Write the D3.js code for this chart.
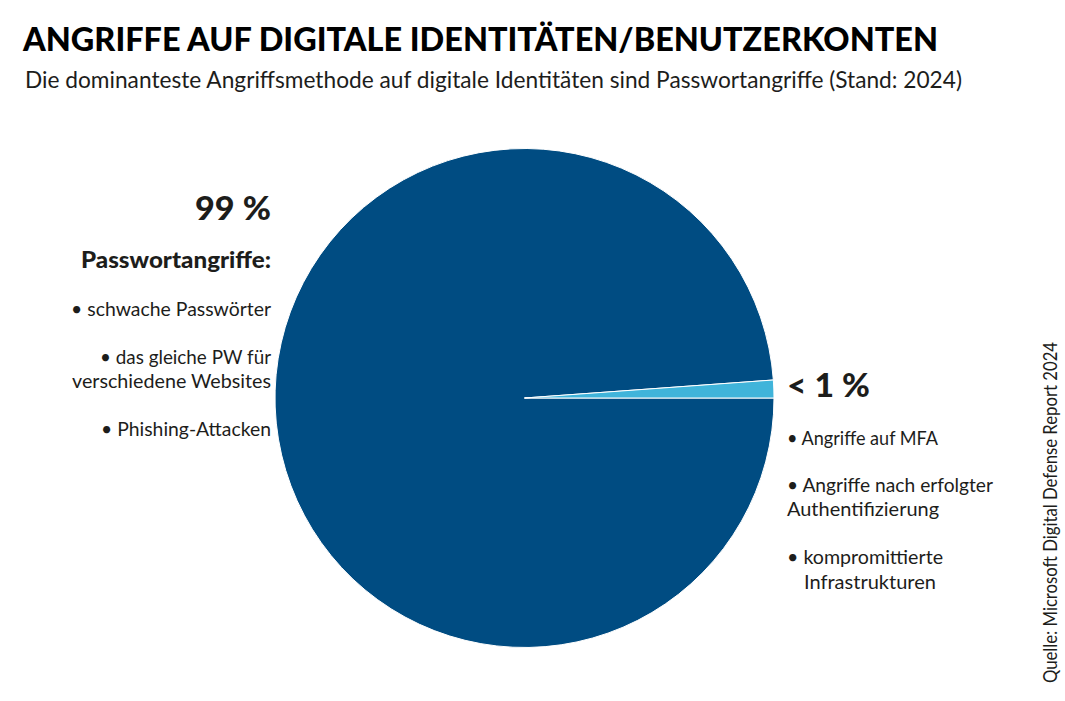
<!DOCTYPE html>
<html>
<head>
<meta charset="utf-8">
<script src="https://cdn.jsdelivr.net/npm/d3@7"></script>
<style>
  html, body { margin: 0; padding: 0; background: #fff; }
  text { font-family: Lato, "Noto Sans", sans-serif; fill: #1d1d1b; }
</style>
</head>
<body>
<svg id="chart" width="1065" height="701"></svg>
<script>
const categories = ['Passwortangriffe', 'Andere Angriffe'];
const shares = [98.85, 1.15];
const colors = ['#004c82', '#40b4da'];

const title = 'ANGRIFFE AUF DIGITALE IDENTITÄTEN/BENUTZERKONTEN';
const subtitle = 'Die dominanteste Angriffsmethode auf digitale Identitäten sind Passwortangriffe (Stand: 2024)';
const source = 'Quelle: Microsoft Digital Defense Report 2024';

const leftLines = ['99 %', 'Passwortangriffe:', '• schwache Passwörter', '• das gleiche PW für', 'verschiedene Websites', '• Phishing-Attacken'];
const rightLines = ['< 1 %', '• Angriffe auf MFA', '• Angriffe nach erfolgter', 'Authentifizierung', '• kompromittierte', 'Infrastrukturen'];

// layout of the text blocks
const leftStyle = [
    {y: 220, size: 33, weight: 900, width: 76},
    {y: 268, size: 22, weight: 900, width: 190},
    {y: 316, size: 20, weight: 400, width: 200},
    {y: 364, size: 20, weight: 400, width: 171},
    {y: 388, size: 20, weight: 400, width: 199},
    {y: 436, size: 20, weight: 400, width: 170}
];
const rightStyle = [
    {x: 787, y: 397, size: 33, weight: 900, width: 83},
    {x: 787, y: 445, size: 20, weight: 400, width: 151},
    {x: 787, y: 492, size: 20, weight: 400, width: 206},
    {x: 787, y: 516, size: 20, weight: 400, width: 152},
    {x: 787, y: 564, size: 20, weight: 400, width: 156},
    {x: 804, y: 589, size: 20, weight: 400, width: 132}
];

const svg = d3.select('#chart');

svg.append('text').attr('x', 23).attr('y', 51)
    .attr('font-size', 33).attr('font-weight', 900)
    .style('fill', '#000')
    .attr('textLength', 915).attr('lengthAdjust', 'spacingAndGlyphs')
    .text(title);
svg.append('text').attr('x', 25).attr('y', 88)
    .attr('font-size', 23)
    .attr('textLength', 937).attr('lengthAdjust', 'spacingAndGlyphs')
    .text(subtitle);

// small slice sits just above the 3 o'clock edge
const pie = d3.pie().sort(null)
    .startAngle(Math.PI / 2)
    .endAngle(Math.PI / 2 + 2 * Math.PI);
const arc = d3.arc().innerRadius(0).outerRadius(249.5);

svg.append('g').attr('transform', 'translate(524.5,398)')
    .selectAll('path')
    .data(pie(shares))
    .join('path')
    .attr('d', arc)
    .attr('fill', (d, i) => colors[i])
    .attr('stroke', '#fff')
    .attr('stroke-width', 1);

svg.append('g').selectAll('text')
    .data(leftLines)
    .join('text')
    .attr('x', (d, i) => 271 - leftStyle[i].width)
    .attr('y', (d, i) => leftStyle[i].y)
    .attr('font-size', (d, i) => leftStyle[i].size)
    .attr('font-weight', (d, i) => leftStyle[i].weight)
    .attr('textLength', (d, i) => leftStyle[i].width)
    .attr('lengthAdjust', 'spacingAndGlyphs')
    .text(d => d);

svg.append('g').selectAll('text')
    .data(rightLines)
    .join('text')
    .attr('x', (d, i) => rightStyle[i].x)
    .attr('y', (d, i) => rightStyle[i].y)
    .attr('font-size', (d, i) => rightStyle[i].size)
    .attr('font-weight', (d, i) => rightStyle[i].weight)
    .attr('textLength', (d, i) => rightStyle[i].width)
    .attr('lengthAdjust', 'spacingAndGlyphs')
    .text(d => d);

svg.append('text')
    .attr('transform', 'translate(1057,683) rotate(-90)')
    .attr('font-size', 19)
    .attr('textLength', 341).attr('lengthAdjust', 'spacingAndGlyphs')
    .text(source);
</script>
</body>
</html>
